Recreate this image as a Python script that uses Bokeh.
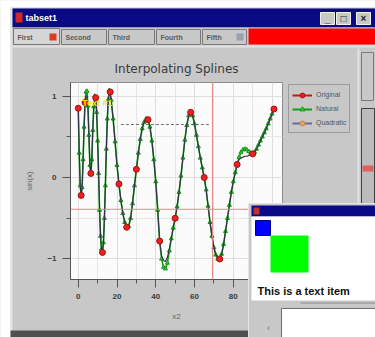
from bokeh.plotting import figure
from bokeh.models import (Label, Span, Legend, LegendItem, ColumnDataSource, Range1d,
                          FixedTicker)
from bokeh.core.properties import value
from bokeh.embed import file_html
from bokeh.resources import INLINE

# ---------------- data ----------------
orig_x = [0, 1.5, 3.5, 6.5, 9, 12.5, 16.5, 21, 25, 30, 36, 42, 50, 58, 65, 73, 82, 90, 101]
orig_y = [0.85, -0.22, 0.92, 0.05, 0.98, -0.92, 1.05, -0.08, -0.61, 0.10, 0.71, -0.78,
          -0.50, 0.80, 0.00, -1.00, 0.16, 0.29, 0.84]

spline_x = [0, 0.5, 1, 1.5, 2, 2.5, 3, 3.5, 4, 4.5, 5, 5.5, 6, 6.5, 7, 7.5, 8, 8.5, 9, 9.5,
            10, 10.5, 11, 11.5, 12, 12.5, 13, 13.5, 14, 14.5, 15, 15.5, 16, 16.5, 17,
            18, 19, 20, 21, 22, 23, 24, 25, 26, 27, 28, 29, 30, 31, 32, 33, 34, 35, 36,
            37, 38, 39, 40, 41, 42, 43, 44, 45, 46, 47, 48, 49, 50, 51, 52, 53, 54, 55,
            56, 57, 58, 59, 60, 61, 62, 63, 64, 65, 66, 67, 68, 69, 70, 71, 72, 73, 74,
            75, 76, 77, 78, 79, 80, 81, 82, 83, 84, 85, 86, 87, 88, 89, 90, 91, 92, 93,
            94, 95, 96, 97, 98, 99, 100, 101]
natural_y = [0.85, 0.30, -0.10, -0.22, -0.12, 0.22, 0.62, 0.92, 1.05, 1.06, 0.88, 0.52,
             0.15, 0.05, 0.22, 0.58, 0.87, 1.00, 0.98, 0.80, 0.45, 0.05, -0.40, -0.72,
             -0.88, -0.92, -0.80, -0.50, -0.10, 0.35, 0.72, 0.96, 1.07, 1.05, 0.95,
             0.72, 0.44, 0.15, -0.08, -0.28, -0.44, -0.55, -0.61, -0.60, -0.50, -0.32,
             -0.10, 0.10, 0.30, 0.47, 0.60, 0.68, 0.72, 0.71, 0.62, 0.45, 0.22, -0.05,
             -0.40, -0.78, -1.00, -1.10, -1.12, -1.05, -0.90, -0.75, -0.62, -0.50, -0.36,
             -0.18, 0.02, 0.24, 0.46, 0.64, 0.76, 0.80, 0.76, 0.66, 0.52, 0.38, 0.24,
             0.12, 0.00, -0.15, -0.35, -0.55, -0.72, -0.86, -0.95, -1.00, -1.00, -0.94,
             -0.82, -0.66, -0.50, -0.34, -0.18, -0.05, 0.06, 0.16, 0.25, 0.31, 0.34,
             0.35, 0.34, 0.32, 0.30, 0.29, 0.31, 0.35, 0.40, 0.45, 0.50, 0.55, 0.60,
             0.66, 0.72, 0.78, 0.84]
quadratic_y = [0.85, 0.30, -0.10, -0.22, -0.12, 0.22, 0.62, 0.92, 1.00, 1.00, 0.86, 0.52,
               0.15, 0.05, 0.22, 0.58, 0.87, 0.98, 0.98, 0.80, 0.45, 0.05, -0.40, -0.72,
               -0.88, -0.92, -0.80, -0.50, -0.10, 0.35, 0.72, 0.96, 1.02, 1.02, 0.95,
               0.72, 0.44, 0.15, -0.08, -0.28, -0.44, -0.55, -0.61, -0.60, -0.50, -0.32,
               -0.10, 0.10, 0.30, 0.47, 0.60, 0.68, 0.72, 0.71, 0.62, 0.45, 0.22, -0.05,
               -0.40, -0.78, -0.96, -1.02, -1.03, -0.98, -0.88, -0.75, -0.62, -0.50, -0.36,
               -0.18, 0.02, 0.24, 0.46, 0.64, 0.76, 0.80, 0.76, 0.66, 0.52, 0.38, 0.24,
               0.12, 0.00, -0.15, -0.35, -0.55, -0.72, -0.86, -0.95, -0.98, -0.99, -0.94,
               -0.82, -0.66, -0.50, -0.34, -0.18, -0.05, 0.06, 0.16, 0.22, 0.24, 0.25,
               0.26, 0.26, 0.27, 0.28, 0.29, 0.31, 0.35, 0.40, 0.45, 0.50, 0.55, 0.60,
               0.66, 0.72, 0.78, 0.84]

x_ticks = [0, 20, 40, 60, 80, 100]
x_minor_ticks = [10, 30, 50, 70, 90]
y_ticks = [-1, 0, 1]
y_minor_ticks = [-0.5, 0.5]
series_names = ["Original", "Natural", "Quadratic"]
chart_title = "Interpolating Splines"
x_title = "x2"
y_title = "sin(x)"
text_marker = "Text #1"
text_marker_pos = (2.0, 0.92)
hline_y = -0.39
vline_x = 69.3
dash_x = [22, 68]
dash_y = [0.65, 0.65]
window_title = "tabset1"
tab_labels = ["First", "Second", "Third", "Fourth", "Fifth"]
canvas_text = "This is a text item"

BG = "#c8c8c8"
NAVY = "#0a0a84"
W, H = 375, 337

# series styles
ORIG = dict(line="#d81010", fill="#ee2020", edge="#a01010")
NAT = dict(line="#10a010", fill="#40d040", edge="#189018")
QUAD = dict(line="#30304a", fill="#e0a868", edge="#c08848")

# ---------------- chart ----------------
p = figure(width=W, height=H, x_range=Range1d(-4, 105.4), y_range=Range1d(-1.252, 1.166),
           output_backend="svg", toolbar_location=None,
           min_border_left=70, min_border_right=93, min_border_top=82, min_border_bottom=58,
           background_fill_color="#fbfbfb", border_fill_color=BG,
           outline_line_color="#8c8c8c")

p.xaxis.ticker = FixedTicker(ticks=x_ticks, minor_ticks=x_minor_ticks)
p.yaxis.ticker = FixedTicker(ticks=y_ticks, minor_ticks=y_minor_ticks)
p.xaxis.axis_label = x_title
p.yaxis.axis_label = y_title
for ax in (p.xaxis[0], p.yaxis[0]):
    ax.axis_line_color = "#555555"
    ax.major_tick_line_color = "#555555"
    ax.minor_tick_line_color = "#555555"
    ax.major_tick_out = 8
    ax.major_tick_in = 0
    ax.minor_tick_out = 4
    ax.minor_tick_in = 0
    ax.major_label_text_font = "Liberation Sans"
    ax.major_label_text_font_size = "8px"
    ax.major_label_text_font_style = "bold"
    ax.major_label_text_color = "#3a3a3a"
    ax.major_label_standoff = 6
    ax.axis_label_text_font = "Liberation Sans"
    ax.axis_label_text_font_size = "8px"
    ax.axis_label_text_font_style = "normal"
    ax.axis_label_text_color = "#666666"
    ax.axis_label_standoff = 10
for g in (p.xgrid[0], p.ygrid[0]):
    g.grid_line_color = "#dedede"
    g.minor_grid_line_color = "#e6e6e6"

src_o = ColumnDataSource(dict(x=orig_x, y=orig_y))
src_s = ColumnDataSource(dict(x=spline_x, n=natural_y, q=quadratic_y))

p.add_layout(Span(location=hline_y, dimension="width", line_color="#e08888", line_width=1))
p.add_layout(Span(location=vline_x, dimension="height", line_color="#e08888", line_width=1))
p.line(dash_x, dash_y, line_color="#707070", line_width=1, line_dash="3 2")

p.line("x", "n", source=src_s, line_color=NAT["line"], line_width=1.6)
p.scatter("x", "n", source=src_s, marker="triangle", size=4,
          fill_color=NAT["fill"], line_color=NAT["edge"])
p.line("x", "q", source=src_s, line_color=QUAD["line"], line_width=1.1)
p.scatter("x", "y", source=src_o, marker="circle", size=6,
          fill_color=ORIG["fill"], line_color=ORIG["edge"])

p.add_layout(Label(x=text_marker_pos[0], y=text_marker_pos[1], text=text_marker,
                   text_font="Liberation Sans", text_font_size="9px", text_font_style="bold",
                   text_color="#e6e600", text_baseline="middle", text_align="left"))

# ---------------- window chrome (transparent overlay, pixel coordinates) ----------------
o = figure(width=W, height=H, x_range=Range1d(0, W), y_range=Range1d(H, 0),
           output_backend="svg", toolbar_location=None, x_axis_type=None, y_axis_type=None,
           min_border=0, background_fill_color=None, border_fill_color=None,
           outline_line_color=None)
o.styles = {"position": "absolute", "left": "0px", "top": "0px"}


def box(l, t, r, b, fill, line=None, lw=1):
    o.quad(left=[l], right=[r], top=[t], bottom=[b], fill_color=fill,
           line_color=line, line_width=lw)


def txt(x, y, text, size="8px", color="#666666", style="normal", align="left",
        font="Liberation Sans"):
    o.text(x=[x], y=[y], text=[text], text_font=value(font), text_font_size=size,
           text_color=color, text_font_style=style, text_align=align,
           text_baseline="middle")


# chart title
txt(176, 68, chart_title, size="12px", color="#3a3a3a", font="DejaVu Sans", align="center")

# legend: sample glyphs from hidden renderers of the same series
lo_l = o.line("x", "y", source=src_o, visible=False, line_color=ORIG["line"], line_width=2)
lo_p = o.scatter("x", "y", source=src_o, visible=False, marker="circle", size=6,
                 fill_color=ORIG["fill"], line_color=ORIG["edge"])
ln_l = o.line("x", "n", source=src_s, visible=False, line_color=NAT["line"], line_width=2)
ln_p = o.scatter("x", "n", source=src_s, visible=False, marker="triangle", size=6,
                 fill_color=NAT["fill"], line_color=NAT["edge"])
lq_l = o.line("x", "q", source=src_s, visible=False, line_color="#6a6aa0", line_width=2)
lq_p = o.scatter("x", "q", source=src_s, visible=False, marker="circle", size=6,
                 fill_color=QUAD["fill"], line_color=QUAD["edge"])
legend = Legend(items=[LegendItem(label=series_names[0], renderers=[lo_l, lo_p]),
                       LegendItem(label=series_names[1], renderers=[ln_l, ln_p]),
                       LegendItem(label=series_names[2], renderers=[lq_l, lq_p])],
                location=(288, H - 133), background_fill_color=BG, background_fill_alpha=1,
                border_line_color="#707070", label_text_font="Liberation Sans",
                label_text_font_size="7px", label_text_color="#555555",
                label_height=13, glyph_height=12, glyph_width=20, spacing=1, padding=3,
                margin=0, label_standoff=4, inactive_fill_alpha=0)
o.add_layout(legend)

# outside of window
box(0, 0, W, 7, "white")
box(0, 0, 10, H, "white")
box(10, 7, 12, 330, "#e4e4e4")
# title bar
box(12, 8, W, 27, NAVY)
box(15, 12, 22, 22, "#d02828")
txt(25, 17.5, window_title, size="9px", color="white", style="bold")
for (l, r, s) in [(320, 334, "_"), (336, 350, "\u25a1"), (356, 370, "\u00d7")]:
    box(l, 12, r, 24, BG, "#f0f0f0")
    txt((l + r) / 2, 18, s, size="10px", color="#202020", style="bold", align="center")
# tabs
box(12, 27, W, 47, BG)
tab_edges = [(13, 59), (61, 106), (108, 154), (156, 200), (202, 246)]
for i, ((l, r), t) in enumerate(zip(tab_edges, tab_labels)):
    box(l, 28 if i == 0 else 29, r, 44, "#d6d6d6" if i == 0 else BG, "#7a7a7a")
    txt(l + 4, 36.5, t, size="7px", color="#5a5a5a", style="bold")
box(49, 33, 56, 40, "#e03a20")
box(236, 33, 243, 40, "#9aa0b0")
box(248, 28, W, 44, "#ff0000")
box(12, 45, W, 47, "#e2e2e2")
# right side vertical tabs
box(357, 48, 359, 330, "#e2e2e2")
box(361, 52, 373, 100, BG, "#7a7a7a")
box(361, 108, 374, 205, "#bcbcbc", "#404040")
box(362, 165, 373, 171, "#e06060")
# bottom edge of main window
box(10, 330, 250, H, "#505050")

# second window
box(248, 203, W, H, BG, "#e6e6e6")
box(251, 205, W, 216, NAVY)
box(253, 207, 259, 214, "#c03030")
box(251, 216, W, 300, "white")
box(255, 220, 270, 235, "#0000ff", "#000090")
box(270, 235, 308, 272, "#00ff00")
txt(257, 290, canvas_text, size="11px", color="#111111", style="bold")
box(300, 302, W, 303, "#8a8a8a")
box(281, 308, W, H, "white", "#707070")
txt(268, 327, "\u2039", size="9px", color="#707070", align="center")

open("out.html", "w").write(file_html([p, o], INLINE))
